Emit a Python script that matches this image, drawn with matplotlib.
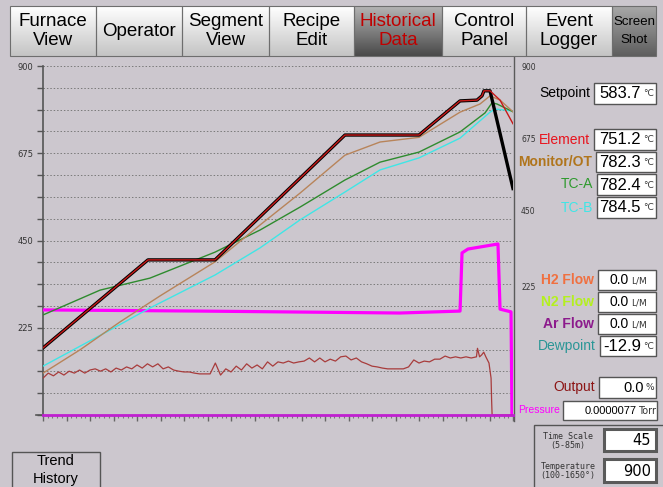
#!/usr/bin/env python3
import matplotlib
matplotlib.use("Agg")
import matplotlib.pyplot as plt
import numpy as np
from matplotlib.colors import LinearSegmentedColormap
from matplotlib.patches import Rectangle
from matplotlib.ticker import FixedLocator, MultipleLocator, NullFormatter, FixedFormatter

plt.rcParams["font.family"] = ["Liberation Sans", "DejaVu Sans"]

# ---- trend data: time in minutes (45 min window), values on the 0-900 scale ----
setpoint_t = [0, 10.05, 16.47, 28.91, 36.0, 39.93, 41.55, 42.03, 42.22, 42.80, 45.0]
setpoint_v = [173, 400, 400, 722, 722, 810, 812, 823, 836, 836, 584]

element_t = [0, 10.05, 16.47, 28.91, 36.0, 39.93, 41.55, 42.03, 42.22, 42.80, 43.76, 45.0]
element_v = [173, 400, 400, 722, 722, 810, 812, 823, 836, 836, 812, 751]

monitor_t = [0, 3.54, 7.37, 11.2, 16.47, 20.78, 24.6, 28.91, 32.27, 36.0, 39.93, 41.84, 42.80, 43.76, 45.0]
monitor_v = [108, 168, 240, 307, 395, 490, 572, 670, 704, 716, 781, 802, 823, 812, 782]

tca_t = [0, 5.46, 10.24, 16.47, 20.78, 24.6, 28.91, 32.27, 36.0, 39.93, 42.32, 42.99, 43.47, 45.0]
tca_v = [258, 322, 353, 420, 477, 536, 606, 652, 678, 730, 779, 805, 802, 782]

tcb_t = [0, 6.41, 10.24, 16.47, 20.78, 24.6, 28.91, 32.27, 36.0, 39.93, 42.80, 43.28, 45.0]
tcb_v = [126, 219, 276, 361, 431, 503, 575, 632, 663, 714, 781, 789, 784]

pressure_t = [0, 15.03, 34.18, 39.93, 40.12, 40.69, 43.56, 43.76, 44.81, 44.9, 45.0]
pressure_v = [271, 268, 263, 268, 418, 428, 441, 273, 266, 0, 0]

flow_t = [0, 45.0]
flow_v = [0, 0]

output_t = [0, 0.5, 1, 1.5, 2, 2.5, 3, 3.5, 4, 4.5, 5, 5.5, 6, 6.5, 7, 7.5, 8, 8.5, 9, 9.5,
            10, 10.5, 11, 11.5, 12, 12.5, 13, 13.5, 14, 14.5, 15, 15.5, 16, 16.5, 17, 17.5,
            18, 18.5, 19, 19.5, 20, 20.5, 21, 21.5, 22, 22.5, 23, 23.5, 24, 24.5, 25, 25.5,
            26, 26.5, 27, 27.5, 28, 28.5, 29, 29.5, 30, 30.5, 31, 31.5, 32, 32.5, 33, 33.5,
            34, 34.5, 35, 35.5, 36, 36.5, 37, 37.5, 38, 38.5, 39, 39.5, 40, 40.5, 41, 41.5,
            41.6, 41.8, 42.0, 42.2, 42.4, 42.7, 42.9, 42.95, 43.0, 45.0]
output_v = [95, 108, 101, 111, 103, 113, 108, 116, 108, 116, 119, 113, 119, 111, 121, 116,
            124, 119, 129, 121, 132, 124, 132, 119, 124, 116, 113, 111, 111, 108, 106, 106,
            106, 134, 103, 119, 111, 126, 116, 132, 121, 129, 119, 137, 126, 137, 134, 139,
            134, 137, 139, 147, 137, 147, 137, 144, 139, 150, 152, 142, 147, 137, 132, 126,
            124, 121, 119, 119, 119, 119, 124, 142, 134, 139, 137, 144, 144, 152, 147, 150,
            147, 150, 147, 150, 172, 150, 155, 162, 150, 134, 95, 40, 0, 0]

# ---- panel readouts ----
readout_labels = ["Setpoint", "Element", "Monitor/OT", "TC-A", "TC-B",
                  "H2 Flow", "N2 Flow", "Ar Flow", "Dewpoint", "Output"]
readout_values = ["583.7", "751.2", "782.3", "782.4", "784.5",
                  "0.0", "0.0", "0.0", "-12.9", "0.0"]
readout_units = ["°C", "°C", "°C", "°C", "°C", "L/M", "L/M", "L/M", "°C", "%"]
pressure_reading = "0.0000077"
time_scale = "45"
temp_scale = "900"

nav_buttons = ["Furnace\nView", "Operator", "Segment\nView", "Recipe\nEdit",
               "Historical\nData", "Control\nPanel", "Event\nLogger", "Screen\nShot"]

# ---- layout (pixels) ----
W, H = 663, 487
BG = "#CCC7CE"
nav_edges = [10, 96, 182, 269, 354, 442, 526, 612, 656]
label_colors = ["black", "#E8141E", "#B0751C", "#2E9A2E", "#3FE6E6",
                "#F07040", "#B4F01E", "#8C1A8C", "#2A9696", "#8C1414"]
label_bold = [False, False, True, False, False, True, True, True, False, False]
# x0, y0, y1 of each value box
box_rows = [(594, 83, 104), (594, 129, 150), (596, 152, 172), (597, 174, 195), (597, 197, 218),
            (598, 270, 290), (598, 292, 312), (598, 314, 334), (600, 336, 356), (599, 377, 398)]
value_sizes = [12, 12, 12, 12, 12, 10, 10, 10, 12, 10.5]
unit_offset = {"°C": 15, "L/M": 27, "%": 12}
BOX_X1 = 656

fig = plt.figure(figsize=(W / 100, H / 100), dpi=100, facecolor=BG)

ui = fig.add_axes([0, 0, 1, 1])
ui.set_axis_off()


def gradient(x0, x1, y0, y1, c_top, c_bot):
    cmap = LinearSegmentedColormap.from_list("g", [c_top, c_bot])
    ui.imshow(np.linspace(0, 1, 64).reshape(-1, 1), cmap=cmap, aspect="auto",
              extent=(x0, x1, y1, y0), interpolation="bilinear", zorder=1)


def value_box(x0, x1, y0, y1, lw=1.0, ec="#555555"):
    ui.add_patch(Rectangle((x0, y0), x1 - x0, y1 - y0, facecolor="white",
                           edgecolor=ec, linewidth=lw, zorder=2))


# nav bar
for i, name in enumerate(nav_buttons):
    x0, x1 = nav_edges[i], nav_edges[i + 1]
    if name.startswith("Historical"):
        gradient(x0, x1, 6, 56, "#B4B4B4", "#4A4A4A")
        color = "#C00000"
    elif name.startswith("Screen"):
        gradient(x0, x1, 6, 56, "#A8A8A8", "#5E5E5E")
        color = "black"
    else:
        gradient(x0, x1, 6, 56, "#FFFFFF", "#C4C4C4")
        color = "black"
    ui.add_patch(Rectangle((x0, 6), x1 - x0, 50, fill=False, edgecolor="#6E6E6E",
                           linewidth=0.8, zorder=3))
    if name.startswith("Screen"):
        ui.text((x0 + x1) / 2, 31, name, ha="center", va="center", fontsize=9.5,
                color=color, linespacing=1.7, zorder=4,
                family=["Liberation Sans Narrow", "Liberation Sans"])
    else:
        ui.text((x0 + x1) / 2, 31, name, ha="center", va="center", fontsize=13.5,
                color=color, linespacing=1.15, zorder=4)

# separators
ui.plot([514, 514], [57, 421], color="#5A5A5A", lw=1.0, zorder=2)
ui.plot([36, 43], [415, 415], color="#555555", lw=1.2, zorder=2)

# right side scale labels
for txt, yy in zip(["900", "675", "450", "225"], [68, 140, 212, 288]):
    ui.text(521, yy, txt, fontsize=5.5, color="#333333", ha="left", va="center",
            family="DejaVu Sans", zorder=4)

# readouts
for i, lab in enumerate(readout_labels):
    x0, y0, y1 = box_rows[i]
    yc = (y0 + y1) / 2
    value_box(x0, BOX_X1, y0, y1)
    ui.text(x0 - 4, yc, lab, ha="right", va="center", fontsize=10, color=label_colors[i],
            fontweight="bold" if label_bold[i] else "normal", zorder=4)
    unit = readout_units[i]
    off = unit_offset[unit]
    ui.text(BOX_X1 - off, yc + 0.5, readout_values[i], ha="right", va="center",
            fontsize=value_sizes[i], color="black", zorder=4)
    ui.text(BOX_X1 - off + 2, yc + 0.5, unit, ha="left", va="center", fontsize=6.5,
            color="#333333", family="DejaVu Sans", zorder=4)

# pressure readout
ui.text(518, 410, "Pressure", ha="left", va="center", fontsize=7.5, color="#FF00FF", zorder=4)
value_box(563, 657, 401, 420)
ui.text(637, 410.5, pressure_reading, ha="right", va="center", fontsize=8, zorder=4)
ui.text(638, 410.5, "Torr", ha="left", va="center", fontsize=7, color="#333333",
        family="DejaVu Sans", zorder=4)

# scale panel
ui.add_patch(Rectangle((534, 425), 140, 70, facecolor=BG, edgecolor="#555555",
                       linewidth=1.0, zorder=1.5))
ui.text(568, 441, "Time Scale\n(5-85m)", ha="center", va="center", fontsize=6,
        family="DejaVu Sans Mono", color="#333333", linespacing=1.0, zorder=4)
ui.text(568, 471, "Temperature\n(100-1650°)", ha="center", va="center", fontsize=6,
        family="DejaVu Sans Mono", color="#333333", linespacing=1.0, zorder=4)
value_box(604, 656, 429, 451, lw=2.2, ec="#5A5A5A")
value_box(604, 656, 459, 482, lw=2.2, ec="#5A5A5A")
ui.text(651, 440.5, time_scale, ha="right", va="center", fontsize=10.5,
        family="DejaVu Sans", zorder=4)
ui.text(651, 471, temp_scale, ha="right", va="center", fontsize=10.5,
        family="DejaVu Sans", zorder=4)

# trend history button
ui.add_patch(Rectangle((12, 452), 88, 40, facecolor=BG, edgecolor="#555555",
                       linewidth=1.0, zorder=1.5))
ui.text(56, 470, "Trend\nHistory", ha="center", va="center", fontsize=10.5,
        linespacing=1.3, zorder=4)

ui.set_xlim(0, W)
ui.set_ylim(H, 0)

# ---- trend chart ----
ax = fig.add_axes([43 / W, 1 - 415 / H, 470 / W, 349 / H])
ax.set_facecolor("none")
ax.set_xlim(0, 45)
ax.set_ylim(0, 900)

grid_levels = np.arange(1, 17) * 56.25
for g in grid_levels:
    ax.axhline(g, color="#7A7A7A", lw=0.7, linestyle=(0, (1.5, 2)), zorder=1)

ax.plot(pressure_t, pressure_v, color="#FF00FF", lw=2.3, zorder=3)
ax.plot(output_t, output_v, color="#A83C3C", lw=0.9, zorder=3)
ax.plot(tcb_t, tcb_v, color="#3FE6E6", lw=1.0, zorder=4)
ax.plot(tca_t, tca_v, color="#2E8B2E", lw=1.0, zorder=4)
ax.plot(monitor_t, monitor_v, color="#B8845A", lw=1.0, zorder=4)
ax.plot(setpoint_t, setpoint_v, color="black", lw=2.4, zorder=5)
ax.plot(element_t, element_v, color="#C81818", lw=1.0, zorder=6)
ax.plot(flow_t, flow_v, color="#C020D0", lw=2.0, zorder=6, clip_on=False)

for side in ["top", "right"]:
    ax.spines[side].set_visible(False)
ax.spines["left"].set_color("#555555")
ax.spines["bottom"].set_color("#555555")
ax.spines["left"].set_linewidth(1.2)

ax.yaxis.set_major_locator(FixedLocator(np.arange(0, 17) * 56.25))
ylabels = ["" for _ in range(17)]
ylabels[4], ylabels[8], ylabels[12], ylabels[16] = "225", "450", "675", "900"
ax.yaxis.set_major_formatter(FixedFormatter(ylabels))
ax.tick_params(axis="y", direction="out", length=4.5, width=1.0, color="#555555",
               labelsize=6, labelcolor="#333333", pad=2.5)
for lab in ax.get_yticklabels():
    lab.set_family("DejaVu Sans")

ax.xaxis.set_major_locator(MultipleLocator(2.25))
ax.xaxis.set_minor_locator(MultipleLocator(0.45))
ax.xaxis.set_major_formatter(NullFormatter())
ax.tick_params(axis="x", which="major", direction="out", length=4.5, width=1.0, color="#666666")
ax.tick_params(axis="x", which="minor", direction="out", length=2.2, width=0.8, color="#777777")

fig.savefig("out.png", dpi=100, facecolor=BG)
